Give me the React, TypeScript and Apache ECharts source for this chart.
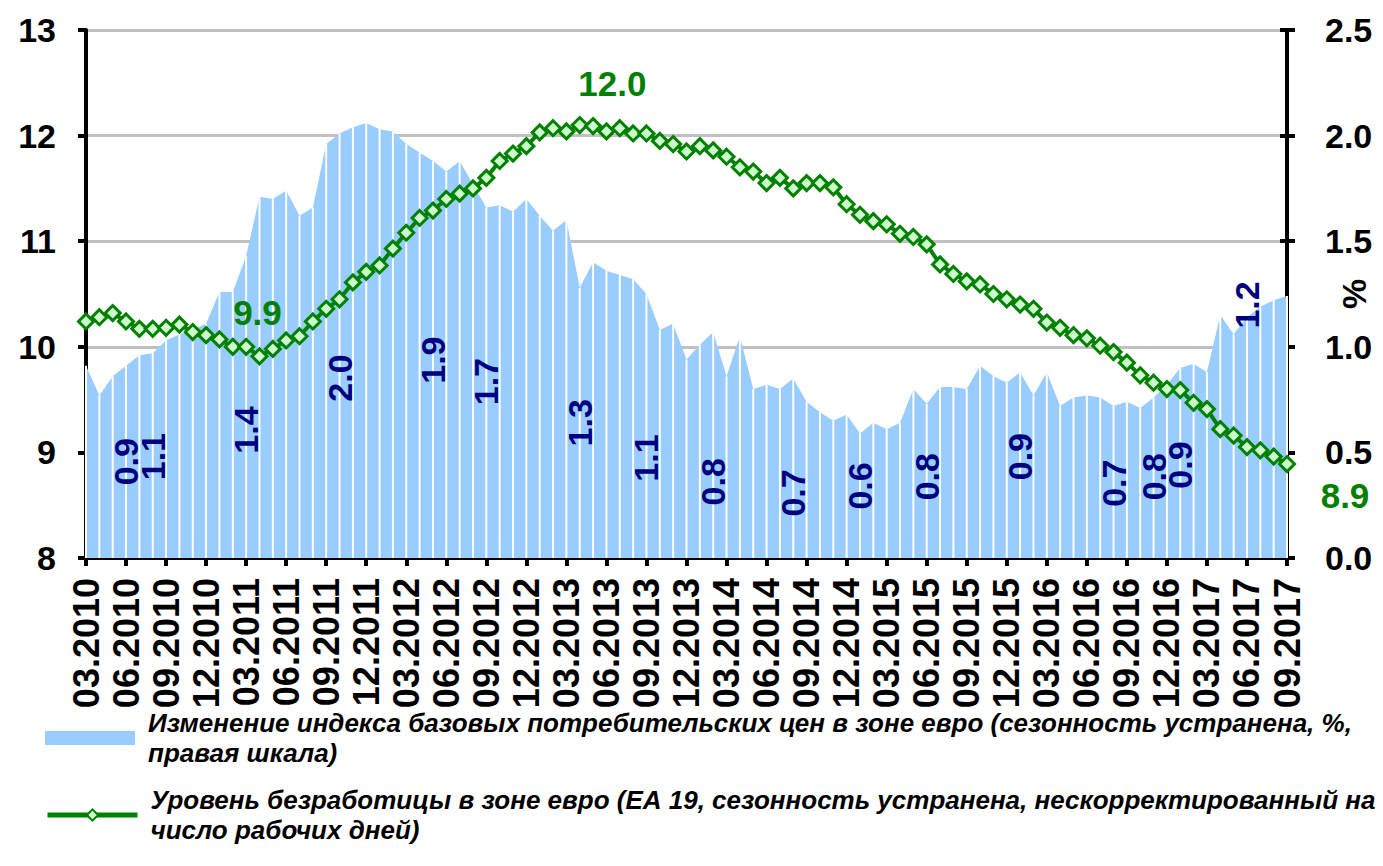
import React, { useEffect, useRef } from 'react';
import * as echarts from 'echarts';

const months = [
  '03.2010','04.2010','05.2010','06.2010','07.2010','08.2010','09.2010','10.2010','11.2010','12.2010',
  '01.2011','02.2011','03.2011','04.2011','05.2011','06.2011','07.2011','08.2011','09.2011','10.2011','11.2011','12.2011',
  '01.2012','02.2012','03.2012','04.2012','05.2012','06.2012','07.2012','08.2012','09.2012','10.2012','11.2012','12.2012',
  '01.2013','02.2013','03.2013','04.2013','05.2013','06.2013','07.2013','08.2013','09.2013','10.2013','11.2013','12.2013',
  '01.2014','02.2014','03.2014','04.2014','05.2014','06.2014','07.2014','08.2014','09.2014','10.2014','11.2014','12.2014',
  '01.2015','02.2015','03.2015','04.2015','05.2015','06.2015','07.2015','08.2015','09.2015','10.2015','11.2015','12.2015',
  '01.2016','02.2016','03.2016','04.2016','05.2016','06.2016','07.2016','08.2016','09.2016','10.2016','11.2016','12.2016',
  '01.2017','02.2017','03.2017','04.2017','05.2017','06.2017','07.2017','08.2017','09.2017'
];

// Core CPI change, % (right axis)
const coreCpi = [
  0.91, 0.77, 0.86, 0.91, 0.96, 0.97, 1.03, 1.06, 1.08, 1.11,
  1.26, 1.26, 1.43, 1.71, 1.70, 1.74, 1.62, 1.66, 1.96, 2.01, 2.04, 2.06,
  2.03, 2.02, 1.96, 1.92, 1.88, 1.83, 1.88, 1.77, 1.66, 1.67, 1.64, 1.70,
  1.62, 1.55, 1.60, 1.28, 1.40, 1.36, 1.34, 1.32, 1.25, 1.08, 1.11, 0.94,
  1.01, 1.07, 0.86, 1.05, 0.80, 0.82, 0.80, 0.85, 0.74, 0.69, 0.65, 0.68,
  0.59, 0.64, 0.61, 0.64, 0.80, 0.73, 0.81, 0.81, 0.80, 0.91, 0.86, 0.83,
  0.88, 0.77, 0.88, 0.72, 0.76, 0.77, 0.76, 0.72, 0.74, 0.71, 0.76, 0.82,
  0.90, 0.92, 0.88, 1.15, 1.06, 1.14, 1.19, 1.22, 1.24
];

// Unemployment rate, % (left axis)
const unemployment = [
  10.24, 10.28, 10.32, 10.24, 10.17, 10.17, 10.18, 10.21, 10.14, 10.11,
  10.07, 10.00, 10.00, 9.91, 9.98, 10.06, 10.10, 10.24, 10.36, 10.45, 10.61, 10.71,
  10.77, 10.93, 11.08, 11.22, 11.29, 11.40, 11.45, 11.50, 11.60, 11.76, 11.83, 11.90,
  12.03, 12.07, 12.04, 12.10, 12.09, 12.04, 12.07, 12.02, 12.02, 11.95, 11.92, 11.85,
  11.90, 11.86, 11.80, 11.70, 11.66, 11.55, 11.60, 11.50, 11.55, 11.55, 11.51, 11.35,
  11.25, 11.19, 11.16, 11.07, 11.04, 10.97, 10.78, 10.69, 10.62, 10.59, 10.50, 10.45,
  10.40, 10.36, 10.23, 10.18, 10.11, 10.08, 10.01, 9.95, 9.85, 9.73, 9.66, 9.60,
  9.59, 9.47, 9.41, 9.22, 9.16, 9.05, 9.02, 8.96, 8.89
];

const cpiLabelIdx = [3, 5, 12, 19, 26, 30, 37, 42, 47, 53, 58, 63, 70, 77, 80, 82, 87];
const cpiLabelText = ['0.9', '1.1', '1.4', '2.0', '1.9', '1.7', '1.3', '1.1', '0.8', '0.7', '0.6', '0.8', '0.9', '0.7', '0.8', '0.9', '1.2'];
const cpiLabelAnchor = [0.456, 0.48, 0.606, 0.852, 0.937, 0.835, 0.64, 0.473, 0.361, 0.308, 0.341, 0.385, 0.48, 0.354, 0.385, 0.44, 1.198];

const unempLabelIdx = [13, 39, 90];
const unempLabelText = ['9.9', '12.0', '8.9'];

const leftTicks = { min: 8, max: 13, interval: 1 };
const rightTicks = { min: 0, max: 2.5, interval: 0.5 };

const cpiName = 'Изменение индекса базовых потребительских цен в зоне евро (сезонность устранена, %,\nправая шкала)';
const unempName = 'Уровень безработицы в зоне евро (ЕА 19, сезонность устранена, нескорректированный на\nчисло рабочих дней)';

const FONT = "'Liberation Sans', Arial, Helvetica, sans-serif";
const W = 1383;
const H = 866;

export default function App() {
  const ref = useRef<HTMLDivElement>(null);
  useEffect(() => {
    if (!ref.current) return;
    const chart = echarts.init(ref.current, null, { renderer: 'svg', width: W, height: H });
    const unempOffsets: Record<number, number[]> = { 13: [-2, -44], 39: [6, -48], 90: [58, 31] };

    const legendText = {
      fontFamily: FONT,
      fontSize: 26,
      fontWeight: 'bold',
      fontStyle: 'italic',
      color: '#000',
      lineHeight: 30,
      padding: [30, 0, 0, 8],
    };

    const option: any = {
      animation: false,
      backgroundColor: '#fff',
      grid: { left: 86, right: 96, top: 30, bottom: 308, containLabel: false, outerBoundsMode: 'none' },
      legend: [
        {
          data: [{ name: cpiName, icon: 'rect' }],
          orient: 'vertical', left: 45, top: 693, padding: 0,
          itemWidth: 90, itemHeight: 14, selectedMode: false,
          textStyle: legendText,
        },
        {
          data: [{ name: unempName }],
          orient: 'vertical', left: 45, top: 770, padding: 0,
          itemWidth: 90, itemHeight: 14, selectedMode: false,
          lineStyle: { width: 5, color: '#008000' },
          itemStyle: { color: '#CCFFCC', borderColor: '#008000', borderWidth: 2 },
          textStyle: legendText,
        },
      ],
      xAxis: {
        type: 'category',
        data: months,
        boundaryGap: false,
        axisLine: { lineStyle: { color: '#000', width: 4 } },
        axisTick: { show: true, interval: 2, length: 8, lineStyle: { color: '#000', width: 4 } },
        axisLabel: {
          interval: 2, rotate: 90, margin: 20,
          fontFamily: FONT, fontSize: 36, fontWeight: 'bold', color: '#000',
        },
        splitLine: { show: false },
      },
      yAxis: [
        {
          type: 'value', position: 'left',
          min: leftTicks.min, max: leftTicks.max, interval: leftTicks.interval,
          axisLine: { show: true, lineStyle: { color: '#000', width: 4 } },
          axisTick: { show: true, length: 8, lineStyle: { color: '#000', width: 4 } },
          axisLabel: { margin: 30, fontFamily: FONT, fontSize: 34, fontWeight: 'bold', color: '#000' },
          splitLine: { show: true, lineStyle: { color: '#C0C0C0', width: 3 } },
        },
        {
          type: 'value', position: 'right',
          min: rightTicks.min, max: rightTicks.max, interval: rightTicks.interval,
          name: '%', nameLocation: 'middle', nameRotate: 90, nameGap: 50, nameMoveOverlap: false,
          nameTextStyle: { fontFamily: FONT, fontSize: 34, fontWeight: 'bold', color: '#000' },
          axisLine: { show: true, lineStyle: { color: '#000', width: 4 } },
          axisTick: { show: true, length: 8, lineStyle: { color: '#000', width: 4 } },
          axisLabel: {
            margin: 38, fontFamily: FONT, fontSize: 34, fontWeight: 'bold', color: '#000',
            formatter: (v: number) => v.toFixed(1),
          },
          splitLine: { show: false },
        },
        {
          type: 'value', position: 'right',
          min: rightTicks.min, max: rightTicks.max, interval: rightTicks.interval,
          axisLine: { show: false },
          axisTick: { show: true, inside: true, length: 7, lineStyle: { color: '#000', width: 4 } },
          axisLabel: { show: false },
          splitLine: { show: false },
        },
      ],
      series: [
        {
          name: cpiName,
          type: 'line',
          yAxisIndex: 1,
          data: coreCpi,
          color: '#99CCFF',
          symbol: 'none',
          lineStyle: { width: 0, color: '#99CCFF' },
          areaStyle: { color: '#99CCFF', opacity: 1 },
          itemStyle: { color: '#99CCFF' },
          z: 2,
        },
        {
          type: 'custom',
          yAxisIndex: 1,
          data: coreCpi.map((v, i) => [i, v]),
          encode: { x: 0, y: 1 },
          silent: true,
          z: 3,
          renderItem: (params: any, api: any) => {
            const i = api.value(0);
            const v = api.value(1);
            const p0 = api.coord([i, 0]);
            const p1 = api.coord([i, v]);
            return {
              type: 'line',
              shape: { x1: p0[0], y1: p0[1], x2: p1[0], y2: p1[1] },
              style: { stroke: '#ffffff', lineWidth: 2 },
            };
          },
        },
        {
          type: 'scatter',
          yAxisIndex: 1,
          symbolSize: 0,
          silent: true,
          z: 4,
          itemStyle: { opacity: 1, color: '#000080' },
          data: cpiLabelIdx.map((idx, k) => ({ value: [idx, cpiLabelAnchor[k]], text: cpiLabelText[k] })),
          label: {
            show: true,
            position: 'inside',
            rotate: 90,
            formatter: (p: any) => p.data.text,
            fontFamily: FONT, fontSize: 34, fontWeight: 'bold', color: '#000080',
            textBorderWidth: 0,
            opacity: 1,
          },
        },
        {
          name: unempName,
          type: 'line',
          yAxisIndex: 0,
          z: 5,
          data: unemployment.map((v, i) => {
            const k = unempLabelIdx.indexOf(i);
            if (k < 0) return v;
            return {
              value: v,
              label: {
                show: true,
                position: 'inside',
                offset: unempOffsets[i],
                formatter: unempLabelText[k],
                fontFamily: FONT, fontSize: 35, fontWeight: 'bold', color: '#008000',
                textBorderWidth: 0,
              },
            };
          }),
          symbol: 'diamond',
          symbolSize: 15,
          showAllSymbol: true,
          color: '#008000',
          lineStyle: { color: '#008000', width: 4 },
          itemStyle: { color: '#CCFFCC', borderColor: '#008000', borderWidth: 3 },
        },
      ],
    };
    chart.setOption(option);
    return () => chart.dispose();
  }, []);

  return (
    <div
      ref={ref}
      style={{ position: 'absolute', left: 0, top: 0, width: W, height: H, background: '#fff' }}
    />
  );
}
